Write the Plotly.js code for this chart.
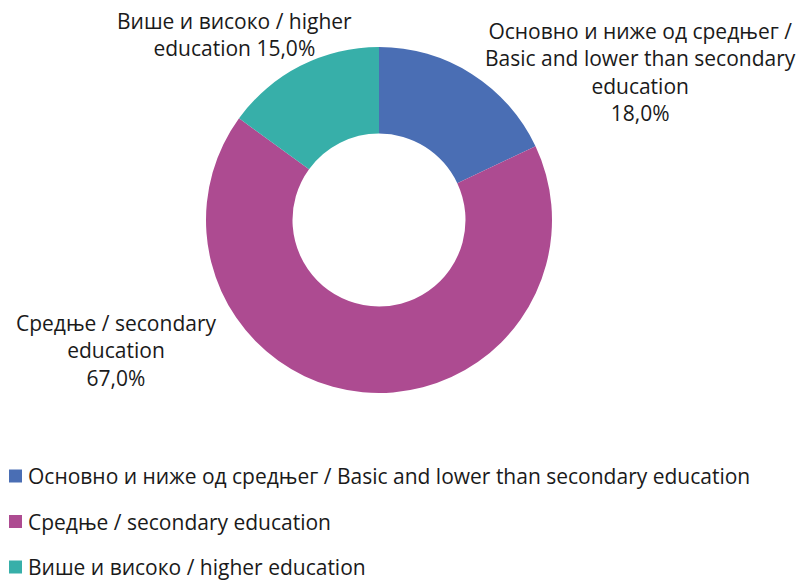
<!DOCTYPE html>
<html>
<head>
<meta charset="utf-8">
<script src="https://cdn.plot.ly/plotly-3.0.1.min.js"></script>
<style>html,body{margin:0;padding:0;background:#fff;}#chart{width:801px;height:581px;}</style>
</head>
<body>
<div id="chart"></div>
<script>
// Data
var categories = [
  "Основно и ниже од средњег / Basic and lower than secondary education",
  "Средње / secondary education",
  "Више и високо / higher education"
];
var values = [18.0, 67.0, 15.0];
var sliceLabelLines = [
  ["Основно и ниже од средњег /", "Basic and lower than secondary", "education"],
  ["Средње / secondary", "education"],
  ["Више и високо / higher", "education"]
];
var colors = ["#4A6EB4", "#AD4B91", "#37AFA9"];

var W = 801, H = 581;
var cx = 379, cy = 220, R = 173;
var FONT = "Open Sans, Noto Sans, sans-serif";
var FS = 21;

function pct(v) { return v.toFixed(1).replace('.', ',') + '%'; }

var trace = {
  type: 'pie',
  labels: categories,
  values: values,
  marker: {colors: colors, line: {width: 0}},
  hole: 0.5,
  sort: false,
  direction: 'clockwise',
  rotation: 0,
  textinfo: 'none',
  hoverinfo: 'label+percent',
  showlegend: false,
  domain: {
    x: [(cx - R) / W, (cx + R) / W],
    y: [(H - cy - R) / H, (H - cy + R) / H]
  }
};

// label placement (pixel centres)
var labelPos = [
  {x: 640, y: 72, joinLast: false},
  {x: 116, y: 350, joinLast: false},
  {x: 234, y: 34, joinLast: true}
];

var annotations = [];
var shapes = [];
for (var i = 0; i < categories.length; i++) {
  var lines = sliceLabelLines[i].slice();
  if (labelPos[i].joinLast) {
    lines[lines.length - 1] = lines[lines.length - 1] + ' ' + pct(values[i]);
  } else {
    lines.push(pct(values[i]));
  }
  annotations.push({
    xref: 'paper', yref: 'paper',
    x: labelPos[i].x / W, y: 1 - labelPos[i].y / H,
    xanchor: 'center', yanchor: 'middle',
    text: lines.join('<br>'),
    showarrow: false, align: 'center',
    font: {family: FONT, size: FS, color: '#1a1a1a'}
  });
}

// custom legend
var legendTop = 476, legendGap = 45.5, sq = 13;
for (var j = 0; j < categories.length; j++) {
  var yc = legendTop + j * legendGap;
  shapes.push({
    type: 'rect', xref: 'paper', yref: 'paper',
    x0: 9 / W, x1: (9 + sq) / W,
    y0: 1 - (yc + sq / 2) / H, y1: 1 - (yc - sq / 2) / H,
    fillcolor: colors[j], line: {width: 0}
  });
  annotations.push({
    xref: 'paper', yref: 'paper',
    x: 26 / W, y: 1 - yc / H,
    xanchor: 'left', yanchor: 'middle',
    text: categories[j], showarrow: false,
    font: {family: FONT, size: FS, color: '#1a1a1a'}
  });
}

var layout = {
  width: W, height: H,
  margin: {l: 0, r: 0, t: 0, b: 0},
  paper_bgcolor: '#ffffff',
  showlegend: false,
  annotations: annotations,
  shapes: shapes
};

Plotly.newPlot('chart', [trace], layout, {displayModeBar: false, staticPlot: true});
</script>
</body>
</html>
